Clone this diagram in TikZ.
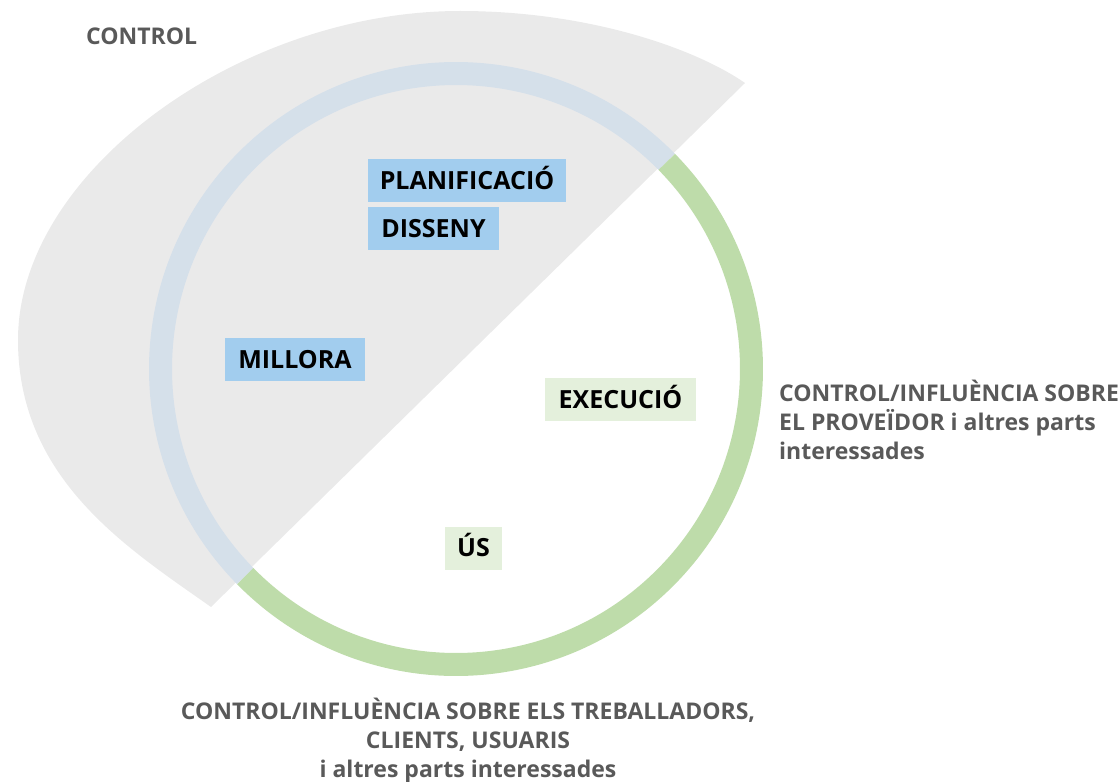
\documentclass[tikz,border=0pt]{standalone}
\usepackage{fontspec}
\setmainfont{Open Sans}
\definecolor{greyfill}{HTML}{EAEAEA}
\definecolor{ringblue}{HTML}{D5E0EA}
\definecolor{ringgreen}{HTML}{BEDCAA}
\definecolor{boxblue}{HTML}{A2CDEE}
\definecolor{boxgreen}{HTML}{E4F0DC}
\definecolor{greytext}{HTML}{595959}
\begin{document}
\begin{tikzpicture}[x=1pt,y=-1pt,
  lbl/.style={font=\fontsize{23}{28}\selectfont\bfseries, text=greytext, inner sep=0pt, anchor=base west},
  lblc/.style={lbl, anchor=base},
  phase/.style={font=\fontsize{25}{30}\selectfont\bfseries, text=black, inner sep=0pt,
    text height=17.9pt, text depth=0pt, minimum height=43pt},
  bluephase/.style={phase, fill=boxblue},
  greenphase/.style={phase, fill=boxgreen},
  ringseg/.style={line width=23pt}
]
\useasboundingbox (0,0) rectangle (1118,781);
% grey control region
\coordinate (gA) at (745,83);
\coordinate (gT) at (460,11);
\coordinate (gL) at (18,340);
\coordinate (gB) at (211,607);
\fill[greyfill] (gA) .. controls (696,49) and (590,11) .. (gT)
  .. controls (240,11) and (18,172) .. (gL)
  .. controls (18,480) and (129,549) .. (gB) -- cycle;
% ring
\coordinate (c) at (456,369);
\draw[ringseg, ringblue] (c) ++(-44.5:295.5) arc[start angle=-44.5, end angle=-224.5, radius=295.5];
\draw[ringseg, ringgreen] (c) ++(135.5:295.5) arc[start angle=135.5, end angle=-44.5, radius=295.5];
% phase boxes
\node[bluephase, minimum width=198pt] (plan) at (467,180.5) {PLANIFICACIÓ};
\node[bluephase, minimum width=131pt] (dis) at (433.5,228.5) {DISSENY};
\node[bluephase, minimum width=140pt] (mil) at (295,359.5) {MILLORA};
\node[greenphase, minimum width=151pt] (exe) at (620.5,399.5) {EXECUCIÓ};
\node[greenphase, minimum width=57pt] (us) at (473.5,548) {ÚS};
% labels
\node[lbl] (ctrl) at (86,44.5) {CONTROL};
\node[lbl] (r1) at (779,401) {CONTROL/INFLUÈNCIA SOBRE};
\node[lbl] (r2) at (779,430) {EL PROVEÏDOR i altres parts};
\node[lbl] (r3) at (779,459) {interessades};
\node[lblc] (b1) at (468,719) {CONTROL/INFLUÈNCIA SOBRE ELS TREBALLADORS,};
\node[lblc] (b2) at (468,748) {CLIENTS, USUARIS};
\node[lblc] (b3) at (468,777) {i altres parts interessades};
\end{tikzpicture}
\end{document}
